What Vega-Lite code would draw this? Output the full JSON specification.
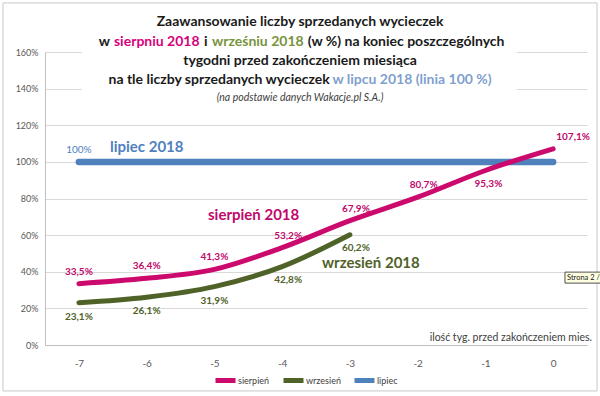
{
  "$schema": "https://vega.github.io/schema/vega-lite/v6.json",
  "width": 542,
  "height": 293,
  "autosize": {"type": "none"},
  "padding": {"left": 45, "top": 52, "right": 13, "bottom": 51},
  "background": "white",
  "resolve": {"axis": {"x": "independent", "y": "independent"}},
  "config": {
    "locale": {"number": {"decimal": ",", "thousands": "\u00a0", "grouping": [3], "currency": ["", " zł"], "minus": "-"}},
    "view": {"stroke": null},
    "font": "Lato",
    "text": {"font": "Lato"}
  },
  "datasets": {
    "main": [
      {"week": -7, "series": "sierpień", "value": 0.335},
      {"week": -6, "series": "sierpień", "value": 0.364},
      {"week": -5, "series": "sierpień", "value": 0.413},
      {"week": -4, "series": "sierpień", "value": 0.532},
      {"week": -3, "series": "sierpień", "value": 0.679},
      {"week": -2, "series": "sierpień", "value": 0.807},
      {"week": -1, "series": "sierpień", "value": 0.953},
      {"week": 0, "series": "sierpień", "value": 1.071},
      {"week": -7, "series": "wrzesień", "value": 0.231},
      {"week": -6, "series": "wrzesień", "value": 0.261},
      {"week": -5, "series": "wrzesień", "value": 0.319},
      {"week": -4, "series": "wrzesień", "value": 0.428},
      {"week": -3, "series": "wrzesień", "value": 0.602},
      {"week": -7, "series": "lipiec", "value": 1.0},
      {"week": -6, "series": "lipiec", "value": 1.0},
      {"week": -5, "series": "lipiec", "value": 1.0},
      {"week": -4, "series": "lipiec", "value": 1.0},
      {"week": -3, "series": "lipiec", "value": 1.0},
      {"week": -2, "series": "lipiec", "value": 1.0},
      {"week": -1, "series": "lipiec", "value": 1.0},
      {"week": 0, "series": "lipiec", "value": 1.0}
    ],
    "one": [{"k": 1}]
  },
  "layer": [
    {
      "data": {"name": "main"},
      "transform": [{"filter": "datum.series === 'lipiec'"}],
      "mark": {"type": "line", "strokeWidth": 6.5, "strokeCap": "round"},
      "encoding": {
        "x": {
          "field": "week", "type": "quantitative",
          "scale": {"domain": [-7.5, 0.5], "nice": false, "zero": false},
          "axis": {
            "title": null, "values": [-7, -6, -5, -4, -3, -2, -1, 0], "format": "d", "grid": false,
            "ticks": false, "labelPadding": 13, "labelFont": "Lato", "labelFontSize": 10,
            "labelColor": "#595959", "domainColor": "#BFBFBF", "domainWidth": 1, "labelFlush": false
          }
        },
        "y": {
          "field": "value", "type": "quantitative",
          "scale": {"domain": [0, 1.6], "nice": false},
          "axis": {
            "title": null, "values": [0, 0.2, 0.4, 0.6, 0.8, 1.0, 1.2, 1.4, 1.6], "format": ".0%",
            "ticks": false, "labelPadding": 7, "labelFont": "Lato", "labelFontSize": 9,
            "labelColor": "#595959", "gridColor": "#D9D9D9", "gridWidth": 1,
            "domainColor": "#BFBFBF", "domainWidth": 1, "labelOverlap": false
          }
        },
        "color": {
          "field": "series", "type": "nominal",
          "scale": {"domain": ["sierpień", "wrzesień", "lipiec"], "range": ["#CC0A6E", "#4F6228", "#4F81BD"]},
          "legend": {
            "title": null, "orient": "none", "legendX": 168, "legendY": 316, "direction": "horizontal", "symbolType": "stroke",
            "symbolStrokeWidth": 5, "symbolSize": 400, "labelFont": "Lato", "labelFontSize": 9,
            "labelColor": "#404040", "columnPadding": 3, "labelOffset": 0, "gridAlign": "none"
          }
        }
      }
    },
    {
      "data": {"name": "one"},
      "mark": {"type": "rect", "fill": null, "fillOpacity": 0, "stroke": "#C8C8C8", "strokeWidth": 1},
      "encoding": {
        "x": {"datum": -8.12, "type": "quantitative", "axis": null}, "x2": {"datum": 0.648},
        "y": {"datum": -0.251, "type": "quantitative", "axis": null}, "y2": {"datum": 1.868}
      }
    },
    {
      "data": {"name": "one"},
      "mark": {"type": "rect", "fill": "white", "stroke": null},
      "encoding": {
        "x": {"datum": -6.954, "type": "quantitative", "axis": null}, "x2": {"datum": -0.533},
        "y": {"datum": 1.30, "type": "quantitative", "axis": null}, "y2": {"datum": 1.86}
      }
    },
    {
      "data": {"name": "main"},
      "transform": [{"filter": "datum.series !== 'lipiec'"}],
      "mark": {"type": "line", "strokeWidth": 5, "strokeCap": "round", "interpolate": "monotone"},
      "encoding": {
        "x": {"field": "week", "type": "quantitative", "axis": null},
        "y": {"field": "value", "type": "quantitative", "axis": null},
        "color": {"field": "series", "type": "nominal"}
      }
    },
    {
      "data": {"name": "main"},
      "transform": [{"filter": "datum.series === 'sierpień' && datum.week <= -5"}],
      "mark": {"type": "text", "fontWeight": "bold", "fontSize": 10, "color": "#C0086A", "dy": -12},
      "encoding": {"x": {"field": "week", "type": "quantitative", "axis": null}, "y": {"field": "value", "type": "quantitative", "axis": null}, "text": {"field": "value", "type": "quantitative", "format": ".1%"}}
    },
    {
      "data": {"name": "main"},
      "transform": [{"filter": "datum.series === 'sierpień' && datum.week >= -4 && datum.week <= -2"}],
      "mark": {"type": "text", "fontWeight": "bold", "fontSize": 10, "color": "#C0086A", "dy": -12, "dx": 6},
      "encoding": {"x": {"field": "week", "type": "quantitative", "axis": null}, "y": {"field": "value", "type": "quantitative", "axis": null}, "text": {"field": "value", "type": "quantitative", "format": ".1%"}}
    },
    {
      "data": {"name": "main"},
      "transform": [{"filter": "datum.series === 'sierpień' && datum.week === -1"}],
      "mark": {"type": "text", "fontWeight": "bold", "fontSize": 10, "color": "#C0086A", "dy": 14, "dx": 3},
      "encoding": {"x": {"field": "week", "type": "quantitative", "axis": null}, "y": {"field": "value", "type": "quantitative", "axis": null}, "text": {"field": "value", "type": "quantitative", "format": ".1%"}}
    },
    {
      "data": {"name": "main"},
      "transform": [{"filter": "datum.series === 'sierpień' && datum.week === 0"}],
      "mark": {"type": "text", "fontWeight": "bold", "fontSize": 10, "color": "#C0086A", "dy": -12, "dx": 20},
      "encoding": {"x": {"field": "week", "type": "quantitative", "axis": null}, "y": {"field": "value", "type": "quantitative", "axis": null}, "text": {"field": "value", "type": "quantitative", "format": ".1%"}}
    },
    {
      "data": {"name": "main"},
      "transform": [{"filter": "datum.series === 'wrzesień' && datum.week <= -5"}],
      "mark": {"type": "text", "fontWeight": "bold", "fontSize": 10, "color": "#4F6228", "dy": 14},
      "encoding": {"x": {"field": "week", "type": "quantitative", "axis": null}, "y": {"field": "value", "type": "quantitative", "axis": null}, "text": {"field": "value", "type": "quantitative", "format": ".1%"}}
    },
    {
      "data": {"name": "main"},
      "transform": [{"filter": "datum.series === 'wrzesień' && datum.week >= -4"}],
      "mark": {"type": "text", "fontWeight": "bold", "fontSize": 10, "color": "#4F6228", "dy": 13, "dx": 6},
      "encoding": {"x": {"field": "week", "type": "quantitative", "axis": null}, "y": {"field": "value", "type": "quantitative", "axis": null}, "text": {"field": "value", "type": "quantitative", "format": ".1%"}}
    },
    {
      "data": {"name": "main"},
      "transform": [{"filter": "datum.series === 'lipiec' && datum.week === -7"}],
      "mark": {"type": "text", "fontSize": 10, "color": "#4F81BD", "dy": -12},
      "encoding": {"x": {"field": "week", "type": "quantitative", "axis": null}, "y": {"field": "value", "type": "quantitative", "axis": null}, "text": {"field": "value", "type": "quantitative", "format": ".0%"}}
    },
    {
      "data": {"name": "one"},
      "mark": {"type": "text", "text": "lipiec 2018", "align": "left", "baseline": "middle", "fontWeight": "bold", "fontSize": 15, "color": "#4F81BD"},
      "encoding": {"x": {"datum": -6.541, "type": "quantitative", "axis": null}, "y": {"datum": 1.08, "type": "quantitative", "axis": null}}
    },
    {
      "data": {"name": "one"},
      "mark": {"type": "text", "text": "sierpień 2018", "align": "left", "baseline": "middle", "fontWeight": "bold", "fontSize": 15, "color": "#C0086A"},
      "encoding": {"x": {"datum": -5.094, "type": "quantitative", "axis": null}, "y": {"datum": 0.709, "type": "quantitative", "axis": null}}
    },
    {
      "data": {"name": "one"},
      "mark": {"type": "text", "text": "wrzesień 2018", "align": "left", "baseline": "middle", "fontWeight": "bold", "fontSize": 15, "color": "#4F6228"},
      "encoding": {"x": {"datum": -3.411, "type": "quantitative", "axis": null}, "y": {"datum": 0.447, "type": "quantitative", "axis": null}}
    },
    {
      "data": {"name": "one"},
      "mark": {"type": "text", "text": "ilość tyg. przed zakończeniem mies.", "align": "right", "baseline": "middle", "fontSize": 10.5, "color": "#404040"},
      "encoding": {"x": {"datum": 0.574, "type": "quantitative", "axis": null}, "y": {"datum": 0.04, "type": "quantitative", "axis": null}}
    },
    {
      "data": {"name": "one"},
      "mark": {"type": "text", "text": "Zaawansowanie liczby sprzedanych wycieczek", "align": "center", "baseline": "middle", "fontWeight": "bold", "fontSize": 14, "color": "#1A1A1A"},
      "encoding": {"x": {"datum": -3.736, "type": "quantitative", "axis": null}, "y": {"datum": 1.764, "type": "quantitative", "axis": null}}
    },
    {
      "data": {"name": "one"},
      "mark": {"type": "text", "text": "w", "align": "left", "baseline": "middle", "fontWeight": "bold", "fontSize": 14, "color": "#1A1A1A"},
      "encoding": {"x": {"datum": -6.705, "type": "quantitative", "axis": null}, "y": {"datum": 1.655, "type": "quantitative", "axis": null}}
    },
    {
      "data": {"name": "one"},
      "mark": {"type": "text", "text": "sierpniu 2018", "align": "left", "baseline": "middle", "fontWeight": "bold", "fontSize": 14, "color": "#D6007A"},
      "encoding": {"x": {"datum": -6.482, "type": "quantitative", "axis": null}, "y": {"datum": 1.655, "type": "quantitative", "axis": null}}
    },
    {
      "data": {"name": "one"},
      "mark": {"type": "text", "text": "i", "align": "left", "baseline": "middle", "fontWeight": "bold", "fontSize": 14, "color": "#1A1A1A"},
      "encoding": {"x": {"datum": -5.153, "type": "quantitative", "axis": null}, "y": {"datum": 1.655, "type": "quantitative", "axis": null}}
    },
    {
      "data": {"name": "one"},
      "mark": {"type": "text", "text": "wrześniu 2018", "align": "left", "baseline": "middle", "fontWeight": "bold", "fontSize": 14, "color": "#77933C"},
      "encoding": {"x": {"datum": -5.035, "type": "quantitative", "axis": null}, "y": {"datum": 1.655, "type": "quantitative", "axis": null}}
    },
    {
      "data": {"name": "one"},
      "mark": {"type": "text", "text": "(w %) na koniec poszczególnych", "align": "left", "baseline": "middle", "fontWeight": "bold", "fontSize": 14, "color": "#1A1A1A"},
      "encoding": {"x": {"datum": -3.62, "type": "quantitative", "axis": null}, "y": {"datum": 1.655, "type": "quantitative", "axis": null}}
    },
    {
      "data": {"name": "one"},
      "mark": {"type": "text", "text": "tygodni przed zakończeniem miesiąca", "align": "center", "baseline": "middle", "fontWeight": "bold", "fontSize": 14, "color": "#1A1A1A"},
      "encoding": {"x": {"datum": -3.736, "type": "quantitative", "axis": null}, "y": {"datum": 1.549, "type": "quantitative", "axis": null}}
    },
    {
      "data": {"name": "one"},
      "mark": {"type": "text", "text": "na tle liczby sprzedanych wycieczek", "align": "left", "baseline": "middle", "fontWeight": "bold", "fontSize": 14, "color": "#1A1A1A"},
      "encoding": {"x": {"datum": -6.563, "type": "quantitative", "axis": null}, "y": {"datum": 1.446, "type": "quantitative", "axis": null}}
    },
    {
      "data": {"name": "one"},
      "mark": {"type": "text", "text": "w lipcu 2018 (linia 100 %)", "align": "left", "baseline": "middle", "fontWeight": "bold", "fontSize": 14, "color": "#7F9FCF"},
      "encoding": {"x": {"datum": -3.257, "type": "quantitative", "axis": null}, "y": {"datum": 1.446, "type": "quantitative", "axis": null}}
    },
    {
      "data": {"name": "one"},
      "mark": {"type": "text", "text": "(na podstawie danych Wakacje.pl S.A.)", "align": "center", "baseline": "middle", "fontStyle": "italic", "fontSize": 10.5, "color": "#404040"},
      "encoding": {"x": {"datum": -3.736, "type": "quantitative", "axis": null}, "y": {"datum": 1.348, "type": "quantitative", "axis": null}}
    },
    {
      "data": {"name": "one"},
      "mark": {"type": "rect", "fill": "#FFFFE1", "stroke": "#505050", "strokeWidth": 1},
      "encoding": {
        "x": {"datum": 0.175, "type": "quantitative", "axis": null}, "x2": {"datum": 0.7},
        "y": {"datum": 0.338, "type": "quantitative", "axis": null}, "y2": {"datum": 0.398}
      }
    },
    {
      "data": {"name": "one"},
      "mark": {"type": "text", "text": "Strona 2 /", "align": "left", "baseline": "middle", "fontSize": 7.5, "color": "#202020"},
      "encoding": {"x": {"datum": 0.205, "type": "quantitative", "axis": null}, "y": {"datum": 0.368, "type": "quantitative", "axis": null}}
    }
  ]
}
